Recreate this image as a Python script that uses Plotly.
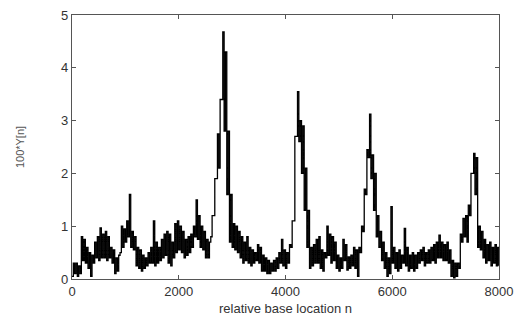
import plotly.graph_objects as go

# Signal envelope, one (low, high) pair per 50-base bin starting at n=0
bin_width = 50
low = [
    0.05, 0.10, 0.05, 0.10, 0.35, 0.30, 0.20, 0.05, 0.30, 0.40,   # 0-450
    0.35, 0.40, 0.40, 0.35, 0.40, 0.30, 0.10, 0.15, 0.50, 0.60,   # 500-950
    0.70, 0.80, 0.60, 0.55, 0.25, 0.20, 0.15, 0.20, 0.25, 0.30,   # 1000-1450
    0.30, 0.25, 0.30, 0.35, 0.40, 0.45, 0.30, 0.25, 0.40, 0.50,   # 1500-1950
    0.55, 0.50, 0.40, 0.45, 0.50, 0.60, 0.80, 0.75, 0.60, 0.55,   # 2000-2450
    0.40, 0.40, 0.80, 1.20, 1.90, 2.10, 3.40, 2.80, 1.60, 0.70,   # 2500-2950
    0.60, 0.55, 0.50, 0.40, 0.30, 0.35, 0.30, 0.25, 0.30, 0.35,   # 3000-3450
    0.30, 0.15, 0.15, 0.10, 0.10, 0.15, 0.15, 0.20, 0.30, 0.25,   # 3500-3950
    0.20, 0.30, 0.60, 1.10, 2.70, 2.60, 2.00, 1.30, 0.60, 0.20,   # 4000-4450
    0.25, 0.30, 0.30, 0.20, 0.15, 0.40, 0.45, 0.30, 0.35, 0.20,   # 4500-4950
    0.15, 0.20, 0.35, 0.17, 0.20, 0.25, 0.20, 0.05, 0.50, 0.90,   # 5000-5450
    1.60, 2.30, 1.90, 1.30, 0.80, 0.60, 0.35, 0.20, 0.05, 0.10,   # 5500-5950
    0.30, 0.20, 0.15, 0.20, 0.30, 0.25, 0.15, 0.20, 0.15, 0.20,   # 6000-6450
    0.30, 0.35, 0.25, 0.30, 0.30, 0.35, 0.30, 0.40, 0.40, 0.35,   # 6500-6950
    0.35, 0.30, 0.05, 0.02, 0.05, 0.20, 0.70, 0.80, 0.70, 1.20,   # 7000-7450
    2.00, 1.60, 0.60, 0.55, 0.40, 0.30, 0.35, 0.25, 0.30, 0.25,   # 7500-7950
]
high = [
    0.30, 0.30, 0.25, 0.80, 0.75, 0.60, 0.50, 0.45, 0.70, 0.80,   # 0-450
    0.97, 0.85, 0.90, 0.80, 0.60, 0.55, 0.40, 0.45, 1.00, 0.95,   # 500-950
    1.10, 1.60, 0.90, 0.80, 0.60, 0.55, 0.45, 0.40, 0.50, 0.60,   # 1000-1450
    1.10, 0.70, 0.60, 0.75, 0.85, 0.90, 0.85, 0.70, 1.05, 1.10,   # 1500-1950
    1.00, 0.90, 0.75, 0.80, 0.85, 1.00, 1.50, 1.20, 1.00, 0.90,   # 2000-2450
    0.75, 0.70, 1.20, 1.90, 2.75, 3.40, 4.68, 4.30, 2.80, 1.60,   # 2500-2950
    1.05, 1.00, 0.90, 0.80, 0.70, 0.80, 0.60, 0.55, 0.50, 0.65,   # 3000-3450
    0.60, 0.45, 0.40, 0.35, 0.30, 0.35, 0.40, 0.50, 0.75, 0.55,   # 3500-3950
    0.50, 0.65, 1.10, 2.70, 3.55, 3.00, 2.90, 2.10, 1.30, 0.60,   # 4000-4450
    0.65, 0.75, 0.80, 0.55, 0.50, 1.00, 0.85, 0.80, 0.70, 0.45,   # 4500-4950
    0.40, 0.75, 0.65, 0.42, 0.45, 0.60, 0.55, 0.60, 1.00, 1.70,   # 5000-5450
    2.45, 3.12, 2.35, 2.00, 1.20, 0.90, 0.70, 0.50, 0.40, 1.37,   # 5500-5950
    0.60, 0.50, 0.55, 0.45, 0.96, 0.60, 0.45, 0.50, 0.45, 0.50,   # 6000-6450
    0.55, 0.60, 0.50, 0.55, 0.60, 0.65, 0.70, 0.83, 0.70, 0.65,   # 6500-6950
    0.70, 0.55, 0.35, 0.30, 0.30, 0.85, 1.15, 1.20, 1.40, 2.00,   # 7000-7450
    2.38, 2.30, 1.00, 0.90, 0.75, 0.65, 0.70, 0.60, 0.65, 0.60,   # 7500-7950
]

x_ticks = [0, 2000, 4000, 6000, 8000]
y_ticks = [0, 1, 2, 3, 4, 5]
x_title = "relative base location n"
y_title = "100*Y[n]"

# Build the trace: within each bin, the low value then the high value (step line)
xs, ys = [], []
for i, (lo, hi) in enumerate(zip(low, high)):
    start = i * bin_width
    xs += [start, start + bin_width / 2]
    ys += [lo, hi]
xs.append(len(low) * bin_width)
ys.append(low[-1])

fig = go.Figure()
fig.add_trace(go.Scatter(
    x=xs, y=ys, mode="lines",
    line=dict(color="#000000", width=1.3, shape="hv"),
    showlegend=False, hoverinfo="skip",
))

axis_common = dict(
    showgrid=False, zeroline=False,
    showline=True, linecolor="#555555", linewidth=1.3,
    mirror="ticks", ticks="inside", ticklen=4, tickcolor="#555555", tickwidth=1,
    tickfont=dict(family="Liberation Sans, Arial, sans-serif", size=13, color="#333333"),
)

fig.update_layout(
    width=519, height=323,
    margin=dict(l=72, r=20, t=15, b=44),
    paper_bgcolor="white", plot_bgcolor="white",
    xaxis=dict(
        range=[0, 8000], tickvals=x_ticks, ticktext=[str(v) for v in x_ticks],
        title=dict(text=x_title, standoff=6,
                   font=dict(family="Liberation Sans, Arial, sans-serif", size=13, color="#333333")),
        **axis_common,
    ),
    yaxis=dict(
        range=[0, 5], tickvals=y_ticks, ticktext=[str(v) for v in y_ticks],
        title=dict(text=y_title, standoff=34,
                   font=dict(family="Liberation Sans, Arial, sans-serif", size=11, color="#555555")),
        **axis_common,
    ),
)
fig.update_xaxes(automargin=False)
fig.update_yaxes(automargin=False)

fig.write_html("out.html")
